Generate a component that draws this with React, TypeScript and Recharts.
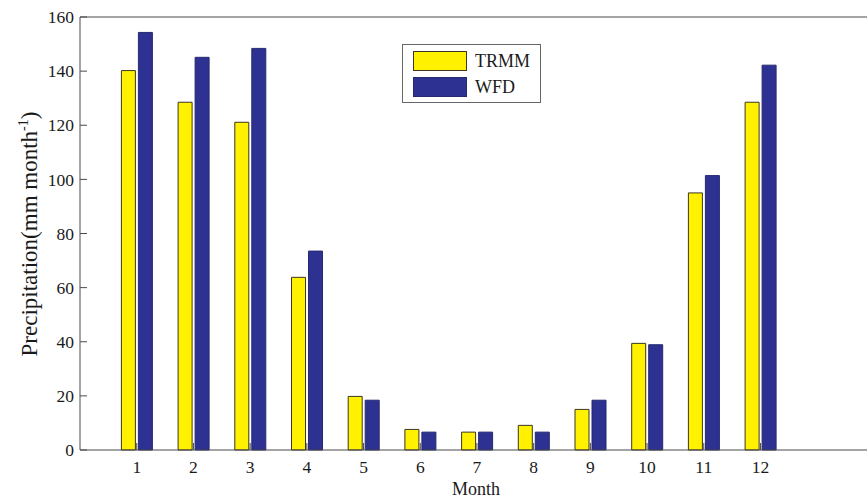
import React from 'react';
import { BarChart, Bar, XAxis, YAxis, Legend } from 'recharts';

const months = ['1', '2', '3', '4', '5', '6', '7', '8', '9', '10', '11', '12'];
const trmmValues = [140.2, 128.5, 121.1, 63.8, 19.8, 7.6, 6.6, 9.1, 15.0, 39.4, 95.0, 128.5];
const wfdValues = [154.3, 145.1, 148.4, 73.5, 18.4, 6.6, 6.6, 6.6, 18.4, 38.9, 101.4, 142.2];
const yTicks = [0, 20, 40, 60, 80, 100, 120, 140, 160];
const seriesNames = ['TRMM', 'WFD'];
const seriesColors = ['#FFF100', '#2D3191'];
const seriesStrokes = ['#3a3620', '#262a70'];

const data = months.map((m, i) => ({ month: m, TRMM: trmmValues[i], WFD: wfdValues[i] }));

const FONT = '"Liberation Serif", "Times New Roman", Times, serif';
const AXIS = '#4a4a4a';
const TEXT = '#1a1a1a';

const renderYLabel = () => (
  <text
    transform="translate(37, 234) rotate(-90)"
    textAnchor="middle"
    fontFamily={FONT}
    fontSize={23}
    fill={TEXT}
  >
    Precipitation(mm month
    <tspan dy={-9} fontSize={14}>-1</tspan>
    <tspan dy={9}>)</tspan>
  </text>
);

const renderXLabel = () => (
  <text x={476} y={495} textAnchor="middle" fontFamily={FONT} fontSize={18} fill={TEXT}>
    Month
  </text>
);

const renderLegend = (props: any) => {
  const payload = props.payload || [];
  return (
    <div
      style={{
        position: 'relative',
        width: 137,
        height: 57,
        border: '1px solid #666',
        background: '#fff',
      }}
    >
      {payload.map((entry: any, i: number) => (
        <div
          key={i}
          style={{
            position: 'absolute',
            left: 10,
            top: 5.5 + i * 26.6,
            display: 'flex',
            alignItems: 'center',
            height: 20,
          }}
        >
          <div
            style={{
              width: 52,
              height: 18,
              background: entry.color,
              border: `1px solid ${i === 0 ? '#3a3620' : '#262a70'}`,
            }}
          />
          <span
            style={{
              marginLeft: 8,
              fontFamily: FONT,
              fontSize: 18,
              color: TEXT,
              lineHeight: '20px',
            }}
          >
            {entry.value}
          </span>
        </div>
      ))}
    </div>
  );
};

export default function App() {
  return (
    <div
      style={{
        position: 'absolute',
        left: 0,
        top: 0,
        width: 867,
        height: 500,
        overflow: 'hidden',
        background: '#fff',
      }}
    >
      <BarChart
        width={870}
        height={500}
        data={data}
        margin={{ top: 16, right: 0, bottom: 0, left: 0 }}
        barGap={3}
      >
        <XAxis
          dataKey="month"
          height={50}
          padding={{ left: 28.4, right: 80.2 }}
          tickSize={-7}
          tickMargin={18}
          tick={{ fontFamily: FONT, fontSize: 17.5, fill: TEXT }}
          axisLine={{ stroke: AXIS }}
          tickLine={{ stroke: AXIS }}
          label={renderXLabel}
        />
        <XAxis
          xAxisId="top"
          orientation="top"
          dataKey="month"
          height={1}
          padding={{ left: 28.4, right: 80.2 }}
          tickSize={-7}
          tick={false}
          axisLine={{ stroke: AXIS }}
          tickLine={{ stroke: AXIS }}
        />
        <YAxis
          width={80}
          domain={[0, 160]}
          ticks={yTicks}
          interval={0}
          tickSize={-7}
          tickMargin={13}
          tick={{ fontFamily: FONT, fontSize: 17.5, fill: TEXT }}
          axisLine={{ stroke: AXIS }}
          tickLine={{ stroke: AXIS }}
          label={renderYLabel}
        />
        <YAxis
          yAxisId="right"
          orientation="right"
          width={1}
          domain={[0, 160]}
          ticks={yTicks}
          interval={0}
          tickSize={-7}
          tick={false}
          axisLine={{ stroke: AXIS }}
          tickLine={{ stroke: AXIS }}
        />
        <Legend
          layout="vertical"
          align="center"
          verticalAlign="middle"
          wrapperStyle={{ position: 'absolute', left: 402, top: 44, width: 139, height: 59, margin: 0, padding: 0 }}
          content={renderLegend}
        />
        <Bar
          dataKey={seriesNames[0]}
          name={seriesNames[0]}
          fill={seriesColors[0]}
          stroke={seriesStrokes[0]}
          strokeWidth={1}
          barSize={14}
          isAnimationActive={false}
        />
        <Bar
          dataKey={seriesNames[1]}
          name={seriesNames[1]}
          fill={seriesColors[1]}
          stroke={seriesStrokes[1]}
          strokeWidth={1}
          barSize={14}
          isAnimationActive={false}
        />
      </BarChart>
    </div>
  );
}
